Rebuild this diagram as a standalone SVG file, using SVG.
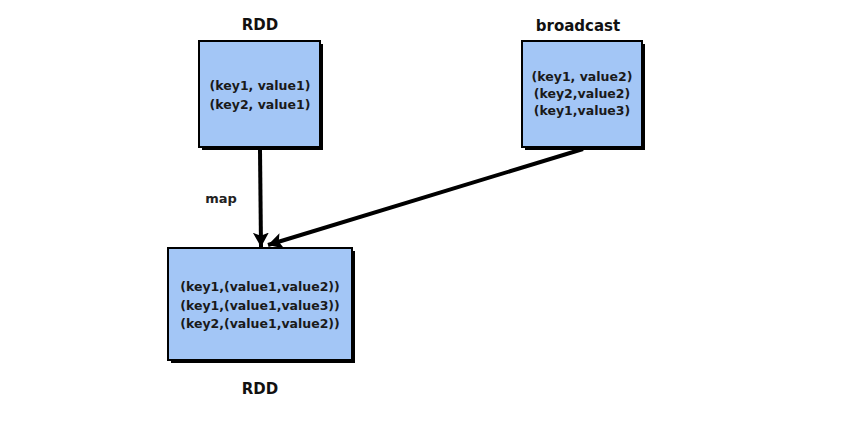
<svg xmlns="http://www.w3.org/2000/svg" width="848" height="433" viewBox="0 0 848 433">
<style>
.box{fill:#a3c6f6;stroke:#000;stroke-width:2}
.shadow{fill:#000}
.t{font-family:"DejaVu Sans","Liberation Sans",sans-serif;font-size:12.5px;font-weight:bold;fill:#1a1a1a;text-anchor:middle}
.lbl{font-family:"DejaVu Sans","Liberation Sans",sans-serif;font-size:15px;font-weight:bold;fill:#111;text-anchor:middle}
.conn{stroke:#000;stroke-width:4;fill:none}
</style>
<defs>
<marker id="ah" markerWidth="4" markerHeight="4" refX="3.6" refY="2" orient="auto" markerUnits="strokeWidth">
<path d="M0,0 L3.6,2 L0,4 L0.8,2 Z" fill="#000"/>
</marker>
</defs>
<rect width="848" height="433" fill="#fff"/>
<g id="connectors">
<line class="conn" x1="260" y1="150" x2="261" y2="247" marker-end="url(#ah)"/>
<line class="conn" x1="583" y1="149" x2="268" y2="245" marker-end="url(#ah)"/>
</g>
<g id="rdd1">
<rect class="shadow" x="202" y="44" width="121" height="106"/>
<rect class="box" x="199" y="41" width="121" height="106"/>
<text class="lbl" x="260" y="30">RDD</text>
<text class="t" x="260" y="90">(key1, value1)</text>
<text class="t" x="260" y="109">(key2, value1)</text>
</g>
<g id="broadcast">
<rect class="shadow" x="525" y="44" width="120" height="106"/>
<rect class="box" x="522" y="41" width="120" height="106"/>
<text class="lbl" x="578" y="31">broadcast</text>
<text class="t" x="582" y="81">(key1, value2)</text>
<text class="t" x="582" y="98">(key2,value2)</text>
<text class="t" x="582" y="115">(key1,value3)</text>
</g>
<text class="lbl" x="221" y="203" style="font-size:13px;fill:#222">map</text>
<g id="rdd2">
<rect class="shadow" x="171" y="251" width="184" height="112"/>
<rect class="box" x="168" y="248" width="184" height="112"/>
<text class="t" x="260" y="291">(key1,(value1,value2))</text>
<text class="t" x="260" y="310">(key1,(value1,value3))</text>
<text class="t" x="260" y="328">(key2,(value1,value2))</text>
<text class="lbl" x="260" y="394">RDD</text>
</g>
</svg>
